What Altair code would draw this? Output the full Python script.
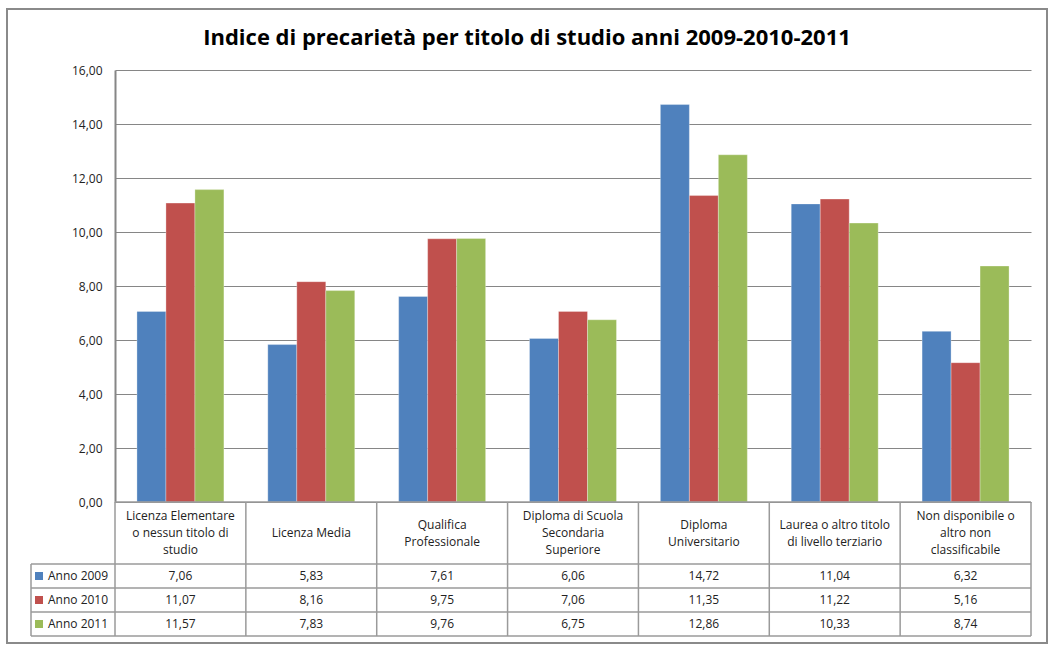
import altair as alt
import pandas as pd

categories = [
    "Licenza Elementare\no nessun titolo di\nstudio",
    "Licenza Media",
    "Qualifica\nProfessionale",
    "Diploma di Scuola\nSecondaria\nSuperiore",
    "Diploma\nUniversitario",
    "Laurea o altro titolo\ndi livello terziario",
    "Non disponibile o\naltro non\nclassificabile",
]
series = ["Anno 2009", "Anno 2010", "Anno 2011"]
v2009 = [7.06, 5.83, 7.61, 6.06, 14.72, 11.04, 6.32]
v2010 = [11.07, 8.16, 9.75, 7.06, 11.35, 11.22, 5.16]
v2011 = [11.57, 7.83, 9.76, 6.75, 12.86, 10.33, 8.74]
colors = ["#4F81BD", "#C0504D", "#9BBB59"]
y_ticks = [0, 2, 4, 6, 8, 10, 12, 14, 16]
title = "Indice di precarietà per titolo di studio anni 2009-2010-2011"

rows = []
for s, vals in zip(series, [v2009, v2010, v2011]):
    for c, v in zip(categories, vals):
        rows.append({"cat": c, "serie": s, "v": v})
df = pd.DataFrame(rows)
cat_df = pd.DataFrame({"cat": categories})

W, H = 916, 432
FONT = "Open Sans"
GRID = "#868686"
TBL = "#9a9a9a"
LH = 17

xsc = alt.Scale(domain=categories, paddingInner=0, paddingOuter=0)
xenc = alt.X("cat:N", scale=xsc, axis=None, sort=categories)
col_scale = alt.Scale(domain=series, range=colors)

base = alt.Chart(df)

bars = base.mark_bar(stroke="#ffffff", strokeWidth=0.5, strokeOpacity=0.6).encode(
    x=xenc,
    xOffset=alt.XOffset("serie:N", sort=series,
                        scale=alt.Scale(paddingInner=0, paddingOuter=0.757)),
    y=alt.Y("v:Q", scale=alt.Scale(domain=[0, 16], nice=False, zero=True),
            axis=alt.Axis(values=y_ticks, grid=True, gridColor=GRID, gridWidth=1,
                          domain=True, domainColor=GRID, domainWidth=2,
                          ticks=False, labelPadding=13, labelFontSize=12,
                          labelFont=FONT, labelColor="#222222", title=None,
                          labelExpr="replace(format(datum.value, '.2f'), '.', ',')")),
    color=alt.Color("serie:N", scale=col_scale, legend=None),
)

one = pd.DataFrame({"a": [0]})

title_mark = alt.Chart(pd.DataFrame({"t": [title]})).mark_text(
    font=FONT, fontSize=22, fontWeight="bold", color="#000000",
    align="center", baseline="middle"
).encode(x=alt.value(412), y=alt.value(-32), text="t:N")

border = alt.Chart(one).mark_rect(
    fillOpacity=0, stroke="#8a8a8a", strokeWidth=2
).encode(x=alt.value(-108), x2=alt.value(932), y=alt.value(-61), y2=alt.value(573))

# table (y positions relative to the plot top; the baseline is at H)
T0 = H
hl_cat = alt.Chart(one).mark_rule(color=TBL, strokeWidth=1.5).encode(
    x=alt.value(0), x2=alt.value(W), y=alt.value(T0))
row_lines = []
for yy in [62, 86, 110, 134]:
    row_lines.append(alt.Chart(one).mark_rule(color=TBL, strokeWidth=1.5).encode(
        x=alt.value(-84), x2=alt.value(W), y=alt.value(T0 + yy)))
vlines = alt.Chart(cat_df).mark_rule(color=TBL, strokeWidth=1.5).encode(
    x=alt.X("cat:N", scale=xsc, axis=None, sort=categories, bandPosition=0),
    y=alt.value(T0), y2=alt.value(T0 + 134))
vline_right = alt.Chart(one).mark_rule(color=TBL, strokeWidth=1.5).encode(
    x=alt.value(W), y=alt.value(T0), y2=alt.value(T0 + 134))
vline_left = alt.Chart(one).mark_rule(color=TBL, strokeWidth=1.5).encode(
    x=alt.value(-84), y=alt.value(T0 + 62), y2=alt.value(T0 + 134))

layers = [border, bars, hl_cat] + row_lines + [vlines, vline_right, vline_left]

# category labels, vertically centred in the header row by line count
for n in [1, 2, 3]:
    layers.append(
        alt.Chart(cat_df)
        .transform_calculate(nl="length(split(datum.cat, '\\n'))")
        .transform_filter(alt.datum.nl == n)
        .mark_text(font=FONT, fontSize=12, color="#222222", lineBreak="\n",
                   lineHeight=LH, align="center", baseline="middle")
        .encode(x=alt.X("cat:N", scale=xsc, axis=None, sort=categories, bandPosition=0.5),
                y=alt.value(T0 + 31 - (n - 1) * LH / 2), text="cat:N")
    )

for i, s in enumerate(series):
    yy = T0 + 74 + 24 * i
    layers.append(
        base.transform_filter(alt.datum.serie == s)
        .transform_calculate(lab="replace(format(datum.v, '.2f'), '.', ',')")
        .mark_text(font=FONT, fontSize=12, color="#222222", align="center", baseline="middle")
        .encode(x=alt.X("cat:N", scale=xsc, axis=None, sort=categories, bandPosition=0.5),
                y=alt.value(yy), text="lab:N")
    )
    sd = pd.DataFrame({"serie": [s]})
    layers.append(
        alt.Chart(sd).mark_square(size=64, opacity=1).encode(
            x=alt.value(-76), y=alt.value(yy),
            color=alt.Color("serie:N", scale=col_scale, legend=None))
    )
    layers.append(
        alt.Chart(sd).mark_text(font=FONT, fontSize=12, color="#222222",
                                align="left", baseline="middle").encode(
            x=alt.value(-67), y=alt.value(yy), text="serie:N")
    )

layers.append(title_mark)

chart = alt.layer(*layers).properties(
    width=W, height=H,
    autosize=alt.AutoSizeParams(type="none"),
    padding={"left": 115, "top": 70, "right": 25, "bottom": 151},
    background="#ffffff",
).configure_view(stroke=None)

chart.save("out.html", embed_options={"renderer": "svg", "actions": False})
